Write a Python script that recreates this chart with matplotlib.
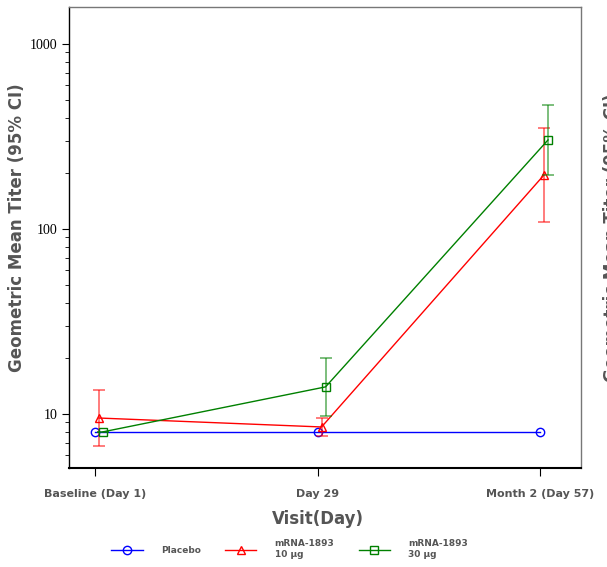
import numpy as np
import matplotlib.pyplot as plt

visits = ["Baseline (Day 1)", "Day 29", "Month 2 (Day 57)"]
groups = ["Placebo", "mRNA-1893\n10 µg", "mRNA-1893\n30 µg"]
gmt = [[8.0, 8.0, 8.0],
       [9.5, 8.5, 196.0],
       [8.0, 14.0, 303.0]]
ci_low = [[8.0, 8.0, 8.0],
          [6.7, 7.6, 109.0],
          [8.0, 9.75, 196.0]]
ci_high = [[8.0, 8.0, 8.0],
           [13.4, 9.5, 353.0],
           [8.0, 20.1, 470.0]]
has_ci = [False, True, True]

colors = ["#0000ff", "#ff0000", "#008000"]
markers = ["o", "^", "s"]
offsets = [0.0, 0.018, 0.036]
gray = "#555555"

fig = plt.figure(figsize=(6.07, 5.67), dpi=100)
ax = fig.add_axes([69/607, 1-468/567, 512/607, 461/567])

x = np.arange(len(visits))
for i in range(3):
    xs = x + offsets[i]
    y = np.array(gmt[i])
    if has_ci[i]:
        lo = y - np.array(ci_low[i])
        hi = np.array(ci_high[i]) - y
        ax.errorbar(xs, y, yerr=[lo, hi], fmt="none", ecolor=colors[i],
                    alpha=0.6, elinewidth=1.2, capsize=4, capthick=1.2)
    ax.plot(xs, y, color=colors[i], lw=1, marker=markers[i], ms=6,
            mfc="none", mec=colors[i], mew=1, label=groups[i])

ax.set_yscale("log")
ax.set_ylim(5.1, 1585)
ax.set_xlim(-0.117, 2.184)
ax.set_yticks([10, 100, 1000])
ax.set_yticklabels(["10", "100", "1000"], fontfamily="Liberation Serif", fontsize=10)
ax.set_xticks(x)
ax.set_xticklabels(visits, fontsize=8, fontweight="bold", color=gray)
ax.tick_params(axis="x", length=6, pad=9)
ax.tick_params(axis="y", which="major", length=5)
ax.tick_params(axis="y", which="minor", length=3)
for s in ["top", "right"]:
    ax.spines[s].set_color("#777777")
    ax.spines[s].set_linewidth(1)
ax.spines["left"].set_linewidth(1)
ax.spines["bottom"].set_linewidth(1.5)

fig.text(318/607, 1-519/567, "Visit(Day)", fontsize=12, fontweight="bold",
         color=gray, ha="center", va="center")
fig.text(17/607, 1-228/567, "Geometric Mean Titer (95% CI)", rotation=90,
         fontsize=12, fontweight="bold", color=gray, ha="center", va="center")
fig.text(612/607, 1-238/567, "Geometric Mean Titer (95% CI)", rotation=90,
         fontsize=12, fontweight="bold", color=gray, ha="center", va="center")

leg = fig.legend(loc="lower center", bbox_to_anchor=(0.477, 0.0), ncol=3,
                 frameon=False, handlelength=3.5, handletextpad=2.0,
                 columnspacing=2.7, prop={"size": 6.5, "weight": "bold"})
for t in leg.get_texts():
    t.set_color(gray)

fig.savefig("out.png", dpi=100)
